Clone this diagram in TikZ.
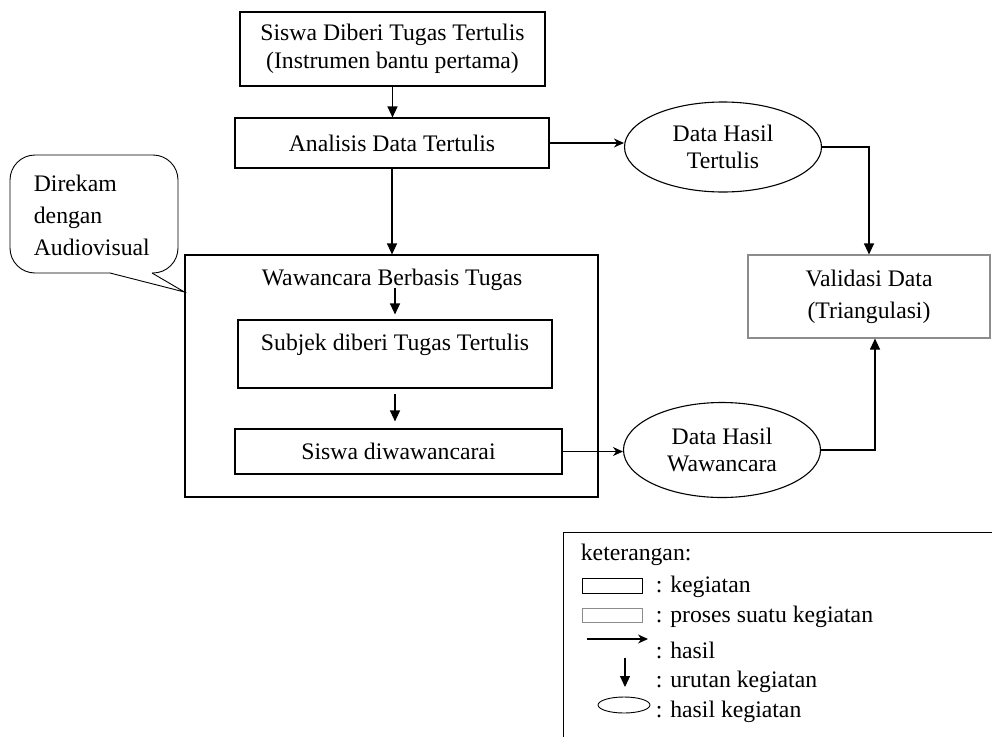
\documentclass[tikz,border=0pt]{standalone}
\usepackage{fontspec}
\setmainfont{Liberation Serif}
\usetikzlibrary{arrows.meta,shapes.geometric}
\definecolor{abu}{RGB}{140,140,140}

\begin{document}
\begin{tikzpicture}[x=1pt,y=-1pt,line width=1.1pt,
    font=\fontsize{23.7}{28}\selectfont,
    kotak/.style={draw,rectangle,inner sep=0pt,align=center},
    proses/.style={kotak,draw=abu},
    hasilnya/.style={draw,ellipse,inner sep=0pt,align=center,minimum width=197pt,
      font=\fontsize{23.7}{27}\selectfont},
    urutan/.style={-{Triangle[length=11pt,width=10pt]}},
    panah/.style={-{Stealth[length=10pt,width=9pt]}}]
    \useasboundingbox (0,0) rectangle (992,736);

    \node[kotak,minimum width=305pt,minimum height=74pt] (tugas) at (392.5,49)
      {Siswa Diberi Tugas Tertulis\\(Instrumen bantu pertama)};
    \node[kotak,minimum width=314pt,minimum height=50pt] (analisis) at (392,143)
      {Analisis Data Tertulis};
    \node[kotak,minimum width=413pt,minimum height=242pt] (wawancara) at (391.5,376) {};
    \node (judul) at (392,280) {Wawancara Berbasis Tugas};
    \node[kotak,minimum width=314pt,minimum height=68pt] (subjek) at (395,354) {};
    \node (subjekteks) at (395,345) {Subjek diberi Tugas Tertulis};
    \node[kotak,minimum width=327pt,minimum height=45pt] (siswa) at (398.5,451.5)
      {Siswa diwawancarai};
    \node[hasilnya,minimum height=90pt] (hasiltulis) at (723,147) {Data Hasil\\Tertulis};
    \node[hasilnya,minimum height=95pt] (hasilwawan) at (722,450) {Data Hasil\\Wawancara};
    \node[proses,minimum width=242pt,minimum height=83pt,
      font=\fontsize{23.7}{32}\selectfont] (validasi) at (869,296.5)
      {Validasi Data\\(Triangulasi)};

    \draw[urutan] (tugas.south) -- (tugas.south |- analisis.north);
    \draw[urutan] (analisis.south) -- (analisis.south |- wawancara.north);
    \draw[panah] (analisis.east) -- (analisis.east -| hasiltulis.west);
    \draw[urutan] (hasiltulis.east) -| (validasi.north);
    \draw[urutan,shorten >=5pt] ([yshift=7pt]judul.south -| subjek.north) -- (subjek.north);
    \draw[urutan,shorten <=5pt,shorten >=7pt] (subjek.south) -- (subjek.south |- siswa.north);
    \draw[panah] (siswa.east) -- (siswa.east -| hasilwawan.west);
    \draw[urutan] (hasilwawan.east) -| ([xshift=6pt]validasi.south);

    \node[anchor=west,align=left,font=\fontsize{23.7}{32}\selectfont] (rekam) at (30,215)
      {Direkam\\dengan\\Audiovisual};
    \coordinate (ujung) at (wawancara.west |- 0,292);
    \draw[rounded corners=25pt,line width=0.9pt] (110,273) -| (10,155) -| (178,273) -- (152,273);
    \draw[line width=0.9pt] (110,273) -- (ujung) -- (152,273);

    \draw[line width=0.9pt] (563,746) |- (1002,532) -- (1002,746);
    \node[anchor=west] (ket) at (577,555) {keterangan:};
    \draw[line width=0.9pt] (582,578) rectangle (642,593);
    \draw[abu,line width=0.9pt] (582,608) rectangle (642,622);
    \draw[panah] (587,639) -- (648,639);
    \draw[urutan] (625,658) -- (625,687);
    \draw[line width=0.9pt] (624,705) ellipse [x radius=26pt,y radius=8pt];
    \node[anchor=west] (kegiatan) at (652,587) {: kegiatan};
    \node[anchor=west] (suatu) at (652,617) {: proses suatu kegiatan};
    \node[anchor=west] (hasil) at (652,650) {: hasil};
    \node[anchor=west] (urut) at (652,682) {: urutan kegiatan};
    \node[anchor=west] (hasilkeg) at (652,712) {: hasil kegiatan};
  \end{tikzpicture}
\end{document}
